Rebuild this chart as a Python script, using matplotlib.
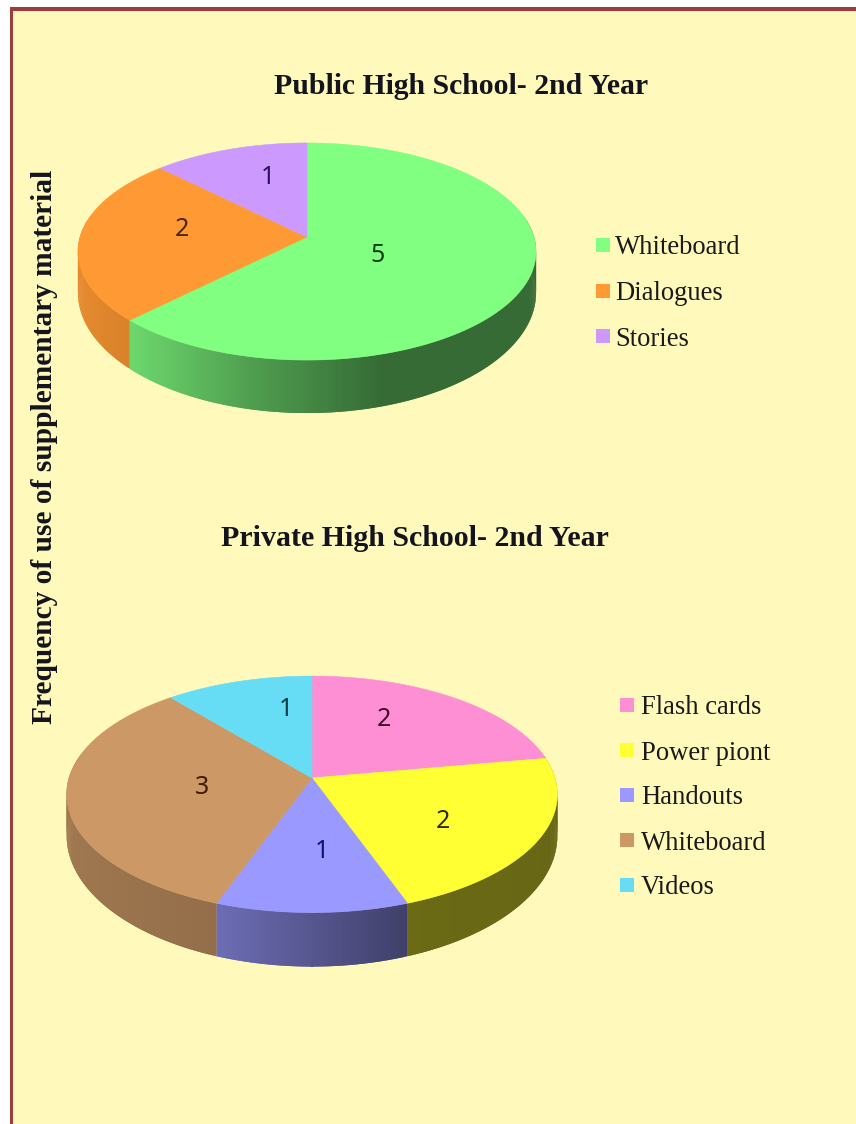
import numpy as np
import matplotlib
matplotlib.use('Agg')
import matplotlib.pyplot as plt
from matplotlib.patches import Rectangle

# Data
public_labels = ['Whiteboard', 'Dialogues', 'Stories']
public_values = [5, 2, 1]
public_colors = ['#80FF80', '#FF9933', '#CC99FF']
public_text_colors = ['#0B3D0B', '#4A2500', '#2E1060']

private_labels = ['Flash cards', 'Power piont', 'Handouts', 'Whiteboard', 'Videos']
private_values = [2, 2, 1, 3, 1]
private_colors = ['#FF8FD4', '#FFFF33', '#9999FF', '#CC9966', '#66DDF5']
private_text_colors = ['#3D0A28', '#2B2B00', '#10106A', '#3D1C00', '#0B3A48']

BG = '#FFFABB'
BORDER = '#A23B3B'
SERIF = 'Liberation Serif'


def project(theta, cx, cy, b, a, k):
    # theta runs clockwise from 12 o'clock, k adds the perspective
    u = np.sin(theta)
    v = np.cos(theta)
    d = 1 + k * v
    return cx + b * u / d, cy - a * v / d


def draw_pie(ax, values, colors, text_colors, text_xy, geom, depth, shade_t, shade_v):
    cx, cy, b, a, k = geom
    total = sum(values)
    edges = np.cumsum([0] + values) / total * 2 * np.pi

    # the width of the disc, used for the shading of the rim
    all_x = project(np.linspace(0, 2 * np.pi, 720), *geom)[0]
    x_min, x_max = all_x.min(), all_x.max()

    # rim first, in thin overlapping strips so it can shade from left to right
    for i, val in enumerate(values):
        base = np.array(matplotlib.colors.to_rgb(colors[i]))
        n = max(int(np.degrees(edges[i + 1] - edges[i])) * 2, 2)
        th = np.linspace(edges[i], edges[i + 1], n + 1)
        x, y = project(th, *geom)
        # the rim looks thinner towards the back of the disc
        h = depth * ((1 - k) / (1 + k * np.cos(th))) ** 2
        # each strip runs into the next one, which hides the seams
        for j in range(n):
            if np.cos((th[j] + th[j + 1]) / 2) > 0.2:
                continue
            e = min(j + 2, n)
            t = ((x[j] + x[j + 1]) / 2 - x_min) / (x_max - x_min)
            col = base * np.interp(t, shade_t, shade_v)
            ax.fill([x[j], x[e], x[e], x[j]],
                    [y[j], y[e], y[e] + h[e], y[j] + h[j]],
                    color=col, lw=0, zorder=2)

    # then the top of each slice
    for i, val in enumerate(values):
        n = max(int(np.degrees(edges[i + 1] - edges[i])), 2)
        th = np.linspace(edges[i], edges[i + 1], n + 1)
        x, y = project(th, *geom)
        ax.fill(np.r_[cx, x], np.r_[cy, y], color=colors[i], lw=0.4, zorder=3)
        ax.text(text_xy[i][0], text_xy[i][1], str(val), color=text_colors[i],
                fontsize=18, family='Noto Sans', ha='center', va='center', zorder=4)


def draw_legend(ax, labels, colors, mark_x, text_x, y0, step):
    for i, lab in enumerate(labels):
        y = y0 + i * step
        ax.scatter([mark_x], [y], marker='s', s=90, color=colors[i], lw=0, zorder=4)
        ax.text(text_x, y + 3, lab, fontsize=19.2, family=SERIF, color='#1A1A1A',
                ha='left', va='center', zorder=4)


fig = plt.figure(figsize=(8.56, 11.24), dpi=100, facecolor='white')
ax = fig.add_axes([0, 0, 1, 1])
ax.set_xlim(0, 856)
ax.set_ylim(1124, 0)
ax.axis('off')

# panel with its border on the top and left
ax.add_patch(Rectangle((10, 7), 860, 1130, facecolor=BG, edgecolor='none', zorder=0))
ax.add_patch(Rectangle((10, 7), 3.5, 1130, facecolor=BORDER, edgecolor='none', zorder=1))
ax.add_patch(Rectangle((10, 7), 860, 3.5, facecolor=BORDER, edgecolor='none', zorder=1))

draw_pie(ax, public_values, public_colors, public_text_colors,
         [(378, 255), (182, 229), (268, 177)],
         (307, 237, 227, 106.6, 0.1336), 53,
         [0, 0.11, 0.38, 0.66, 1], [0.9, 0.85, 0.62, 0.42, 0.42])
draw_pie(ax, private_values, private_colors, private_text_colors,
         [(384, 720), (443, 822), (322, 852), (202, 787), (286, 710)],
         (312, 778, 243, 116, 0.138), 54,
         [0, 0.3, 0.32, 0.69, 1], [0.78, 0.72, 0.70, 0.42, 0.40])

draw_legend(ax, public_labels, public_colors, 603, 615, 245, 45.5)
draw_legend(ax, private_labels, private_colors, 627, 641, 705, 45)

ax.text(461, 87, 'Public High School- 2nd Year', fontsize=21.4, family=SERIF,
        fontweight='bold', color='#14141E', ha='center', va='center')
ax.text(415, 539, 'Private High School- 2nd Year', fontsize=21.5, family=SERIF,
        fontweight='bold', color='#14141E', ha='center', va='center')
ax.text(45, 447, 'Frequency of use of supplementary material', fontsize=21.2, family=SERIF,
        fontweight='bold', color='#14141E', rotation=90, ha='center', va='center')

fig.savefig('out.png', dpi=100, facecolor='white')
